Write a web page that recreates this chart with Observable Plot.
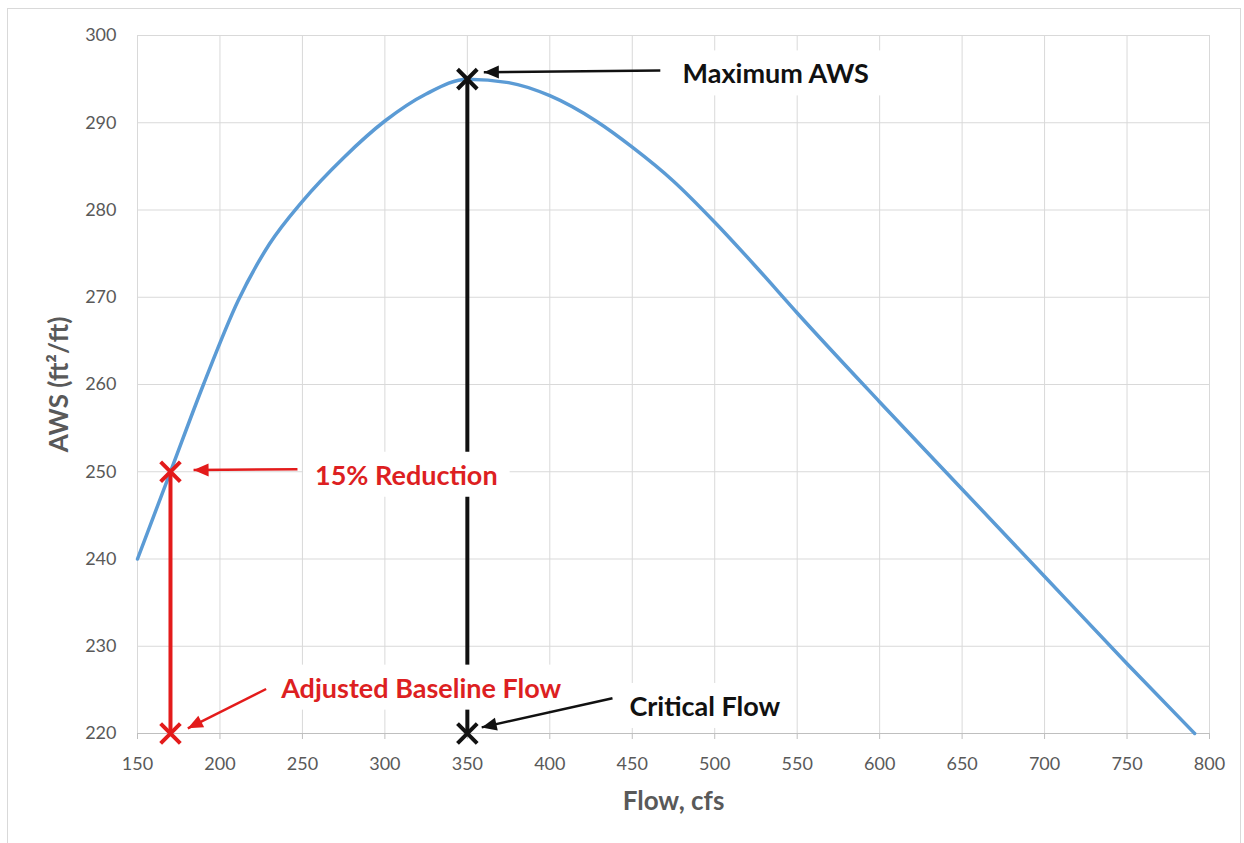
<!DOCTYPE html>
<html>
<head>
<meta charset="utf-8">
<script src="https://cdn.jsdelivr.net/npm/d3@7"></script>
<script src="https://cdn.jsdelivr.net/npm/@observablehq/plot@0.6"></script>
<style>
  html, body { margin: 0; padding: 0; background: #fff; }
  #wrap { position: relative; width: 1244px; height: 843px; }
  #border { position: absolute; left: 7px; top: 8px; width: 1232px; height: 850px; border: 1px solid #d9d9d9; pointer-events: none; }
</style>
</head>
<body>
<div id="wrap"><div id="border"></div></div>
<script>
// AWS curve
const flow = [150, 170, 190, 211, 230, 250, 275, 300, 325, 350, 375, 400, 428, 450, 475, 500, 525, 550, 600, 650, 700, 750, 791];
const aws  = [240, 250, 260, 269.6, 276.1, 281, 286, 290.2, 293.3, 295, 294.6, 293.1, 290.2, 287.2, 283.3, 278.6, 273.5, 268.2, 258, 248, 238, 228, 220];

// Axis ticks
const xTicks = [150, 200, 250, 300, 350, 400, 450, 500, 550, 600, 650, 700, 750, 800];
const yTicks = [220, 230, 240, 250, 260, 270, 280, 290, 300];

// Markers (X symbols)
const markerFlow  = [170, 170, 350, 350];
const markerAws   = [250, 220, 295, 220];
const markerColor = ["#e31b1b", "#e31b1b", "#111111", "#111111"];

// Vertical guide lines
const guideFlow  = [170, 350];
const guideLow   = [220, 220];
const guideHigh  = [250, 295];
const guideColor = ["#e31b1b", "#111111"];

// Annotation labels
const labelText  = ["Maximum AWS", "15% Reduction", "Adjusted Baseline Flow", "Critical Flow"];
const labelFlow  = [537, 313, 322, 494];
const labelAws   = [295.5, 249.5, 225.1, 223];
const labelColor = ["#111111", "#dd1f22", "#dd1f22", "#111111"];

// Annotation arrows (tail -> head)
const arrowX1 = [467, 247, 228, 438];
const arrowY1 = [296, 250.3, 225.1, 224.05];
const arrowX2 = [360, 184, 180.5, 358.7];
const arrowY2 = [295.8, 250.2, 220.6, 220.7];
const arrowColor = ["#111111", "#e31b1b", "#e31b1b", "#111111"];

const curve = flow.map((f, i) => ({flow: f, aws: aws[i]}));
const markers = markerFlow.map((f, i) => ({flow: f, aws: markerAws[i], color: markerColor[i]}));
const guides = guideFlow.map((f, i) => ({flow: f, y1: guideLow[i], y2: guideHigh[i], color: guideColor[i]}));
const labels = labelText.map((t, i) => ({text: t, flow: labelFlow[i], aws: labelAws[i], color: labelColor[i]}));
const arrows = arrowX1.map((x, i) => ({x1: x, y1: arrowY1[i], x2: arrowX2[i], y2: arrowY2[i], color: arrowColor[i]}));

const FONT = "Lato, 'Open Sans', sans-serif";

const chart = Plot.plot({
  width: 1244,
  height: 843,
  marginLeft: 137,
  marginRight: 35,
  marginTop: 35,
  marginBottom: 110,
  style: {fontFamily: FONT, background: "transparent"},
  x: {domain: [150, 800]},
  y: {domain: [220, 300]},
  marks: [
    Plot.gridX(xTicks, {stroke: "#d9d9d9", strokeOpacity: 1, strokeWidth: 1}),
    Plot.gridY(yTicks, {stroke: "#d9d9d9", strokeOpacity: 1, strokeWidth: 1}),
    Plot.ruleY([220], {stroke: "#bfbfbf", strokeWidth: 1.2}),
    Plot.axisX(xTicks, {tickSize: 6, tickPadding: 18, fontSize: 18, stroke: "#bfbfbf", fill: "#595959", label: null}),
    Plot.axisY(yTicks, {tickSize: 0, tickPadding: 21, fontSize: 18, fill: "#595959", label: null}),
    Plot.text(["Flow, cfs"], {frameAnchor: "bottom", textAnchor: "middle", dy: 76, fontSize: 26, fontWeight: "bold", fill: "#595959"}),
    Plot.text(["AWS (ft²/ft)"], {frameAnchor: "left", textAnchor: "middle", dx: -78, rotate: -90, fontSize: 26, fontWeight: "bold", fill: "#595959"}),
    Plot.line(curve, {x: "flow", y: "aws", stroke: "#5b9bd5", strokeWidth: 3.5, curve: "monotone-x"}),
    Plot.ruleX(guides, {x: "flow", y1: "y1", y2: "y2", stroke: "color", strokeWidth: 4}),
    Plot.text(labels, {x: "flow", y: "aws", text: "text", fill: "color", fontSize: 27, fontWeight: "bold", className: "annot"}),
    Plot.link(arrows, {x1: "x1", y1: "y1", x2: "x2", y2: "y2", stroke: "color", strokeWidth: 2.5, className: "arrowlinks"}),
    Plot.dot(markers, {x: "flow", y: "aws", symbol: "times", r: 9, stroke: "color", strokeWidth: 4})
  ]
});

document.getElementById("wrap").prepend(chart);

// filled arrowheads placed with the chart's own scales
const sx = chart.scale("x"), sy = chart.scale("y");
const linkGroup = chart.querySelector(".arrowlinks");
arrows.forEach(a => {
  const x1 = sx.apply(a.x1), y1 = sy.apply(a.y1), x2 = sx.apply(a.x2), y2 = sy.apply(a.y2);
  const dx = x2 - x1, dy = y2 - y1, len = Math.hypot(dx, dy);
  const ux = dx / len, uy = dy / len;
  const L = 15, W = 6.5;
  const bx = x2 - ux * L, by = y2 - uy * L;
  const pts = [[x2, y2], [bx - uy * W, by + ux * W], [bx + uy * W, by - ux * W]];
  const p = document.createElementNS("http://www.w3.org/2000/svg", "polygon");
  p.setAttribute("points", pts.map(q => q.join(",")).join(" "));
  p.setAttribute("fill", a.color);
  linkGroup.appendChild(p);
});

// white boxes behind annotation labels
document.querySelectorAll(".annot text").forEach(t => {
  const b = t.getBBox();
  const padX = 12, padY = 6;
  const r = document.createElementNS("http://www.w3.org/2000/svg", "rect");
  r.setAttribute("x", b.x - padX);
  r.setAttribute("y", b.y - padY);
  r.setAttribute("width", b.width + 2 * padX);
  r.setAttribute("height", b.height + 2 * padY);
  r.setAttribute("fill", "white");
  if (t.getAttribute("transform")) r.setAttribute("transform", t.getAttribute("transform"));
  t.parentNode.insertBefore(r, t);
});
</script>
</body>
</html>
